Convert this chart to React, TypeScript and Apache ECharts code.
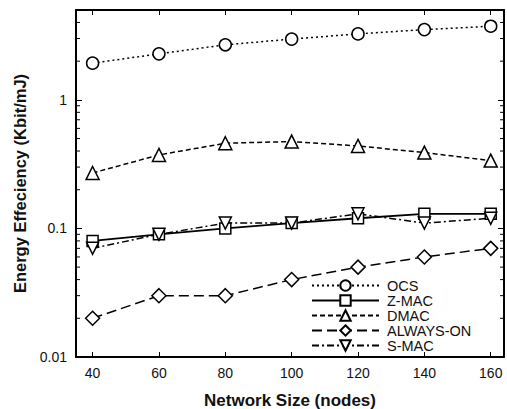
import React, { useEffect, useRef } from "react";
import * as echarts from "echarts";

const xValues = [40, 60, 80, 100, 120, 140, 160];
const ocs = [1.93, 2.28, 2.68, 2.97, 3.26, 3.52, 3.74];
const zmac = [0.08, 0.09, 0.1, 0.11, 0.12, 0.13, 0.13];
const dmac = [0.27, 0.373, 0.46, 0.474, 0.438, 0.389, 0.337];
const alwaysOn = [0.02, 0.03, 0.03, 0.04, 0.05, 0.06, 0.07];
const smac = [0.07, 0.09, 0.11, 0.11, 0.13, 0.11, 0.12];
const yMajorTicks = [0.01, 0.1, 1];
const yMinorTicks = [
  0.02, 0.03, 0.04, 0.05, 0.06, 0.07, 0.08, 0.09,
  0.2, 0.3, 0.4, 0.5, 0.6, 0.7, 0.8, 0.9,
  2, 3, 4,
];
const X_MIN = 35;
const X_MAX = 164;
const Y_MIN = 0.01;
const Y_MAX = 5;

const FONT = "'Liberation Sans', Arial, Helvetica, sans-serif";

export default function App() {
  const ref = useRef<HTMLDivElement>(null);
  useEffect(() => {
    if (!ref.current) return;
    const chart = echarts.init(ref.current, undefined, { renderer: "svg" });
    const mkLine = (
      name: string,
      values: number[],
      symbol: string,
      size: number,
      type: any,
      width: number
    ) => ({
      name,
      type: "line",
      data: xValues.map((x, i) => [x, values[i]]),
      symbol,
      symbolSize: size,
      showSymbol: true,
      lineStyle: { color: "#000", width, type },
      itemStyle: { color: "#fff", borderColor: "#000", borderWidth: 1.5 },
      z: 3,
    });
    const axisLine = { show: true, lineStyle: { color: "#000", width: 2 } };
    const option: any = {
      animation: false,
      backgroundColor: "#fff",
      textStyle: { fontFamily: FONT },
      grid: { left: 76, top: 10, right: 3, bottom: 52, containLabel: false, outerBoundsMode: "none" },
      legend: {
        orient: "vertical",
        left: 311,
        top: 278,
        padding: 0,
        itemWidth: 67,
        itemHeight: 13,
        itemGap: 0,
        data: ["OCS", "Z-MAC", "DMAC", "ALWAYS-ON", "S-MAC"],
        textStyle: { fontFamily: FONT, fontSize: 14.5, lineHeight: 15, color: "#111", padding: [0, 0, 0, 3] },
        selectedMode: false,
      },
      xAxis: [
        {
          type: "value",
          min: X_MIN,
          max: X_MAX,
          position: "bottom",
          name: "Network Size (nodes)",
          nameLocation: "middle",
          nameGap: 35,
          nameTextStyle: { fontFamily: FONT, fontSize: 17, fontWeight: "bold", color: "#111" },
          axisLine,
          axisTick: { show: true, inside: true, length: 5, customValues: xValues, lineStyle: { color: "#000", width: 1 } },
          axisLabel: { show: true, customValues: xValues, fontSize: 14, color: "#111", margin: 9, fontFamily: FONT },
          splitLine: { show: false },
        },
        {
          type: "value",
          min: X_MIN,
          max: X_MAX,
          position: "top",
          axisLine,
          axisTick: { show: true, inside: true, length: 5, customValues: xValues, lineStyle: { color: "#000", width: 1 } },
          axisLabel: { show: false },
          splitLine: { show: false },
        },
      ],
      yAxis: [
        {
          type: "log",
          logBase: 10,
          min: Y_MIN,
          max: Y_MAX,
          position: "left",
          name: "Energy Effeciency (Kbit/mJ)",
          nameLocation: "middle",
          nameGap: 48,
          nameTextStyle: { fontFamily: FONT, fontSize: 16.5, fontWeight: "bold", color: "#111" },
          axisLine,
          axisTick: { show: true, inside: true, length: 6, customValues: yMajorTicks, lineStyle: { color: "#000", width: 1 } },
          axisLabel: { show: true, customValues: yMajorTicks, fontSize: 14, color: "#111", margin: 9, fontFamily: FONT },
          splitLine: { show: false },
          minorTick: { show: false },
        },
        {
          type: "log",
          logBase: 10,
          min: Y_MIN,
          max: Y_MAX,
          position: "right",
          axisLine,
          axisTick: { show: true, inside: true, length: 6, customValues: yMajorTicks, lineStyle: { color: "#000", width: 1 } },
          axisLabel: { show: false },
          splitLine: { show: false },
        },
      ],
      series: [
        {
          name: "minorTicks",
          type: "custom",
          coordinateSystem: "cartesian2d",
          silent: true,
          clip: false,
          data: yMinorTicks.map((v) => [X_MIN, v]),
          renderItem: (params: any, api: any) => {
            const v = api.value(1);
            const p = api.coord([X_MIN, v]);
            const cs = params.coordSys;
            return {
              type: "group",
              children: [
                { type: "line", shape: { x1: cs.x, y1: p[1], x2: cs.x + 4, y2: p[1] }, style: { stroke: "#000", lineWidth: 1 } },
                { type: "line", shape: { x1: cs.x + cs.width, y1: p[1], x2: cs.x + cs.width - 4, y2: p[1] }, style: { stroke: "#000", lineWidth: 1 } },
              ],
            };
          },
          z: 1,
        },
        mkLine("OCS", ocs, "circle", 12, [2, 3], 1.5),
        mkLine("Z-MAC", zmac, "rect", 11, "solid", 1.8),
        mkLine("DMAC", dmac, "triangle", 13, [5, 3], 1.5),
        mkLine("ALWAYS-ON", alwaysOn, "diamond", 14, [10, 5], 1.5),
        mkLine("S-MAC", smac, "path://M0,0 L10,0 L5,9 Z", 12, [7, 3, 2, 3], 1.5),
      ],
    };
    chart.setOption(option);
    return () => chart.dispose();
  }, []);
  return (
    <div
      ref={ref}
      style={{ position: "fixed", left: 0, top: 0, width: 507, height: 409, background: "#fff" }}
    />
  );
}
